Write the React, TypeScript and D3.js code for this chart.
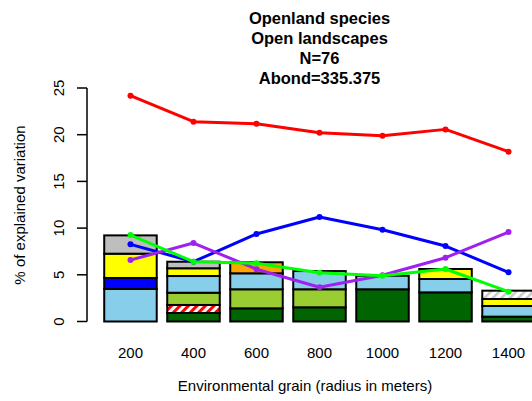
import React from "react";
import * as d3 from "d3";

const grains = ["200", "400", "600", "800", "1000", "1200", "1400"];

// stacked components (bottom to top), segment heights in % explained variation
const stackKeys = ["darkgreen", "redHatch", "yellowgreen", "skyblue", "blue", "yellow", "orange", "gray", "grayHatch"];
const darkgreenVals = [0, 0.91, 1.41, 1.52, 3.45, 3.12, 0.52];
const redHatchVals = [0, 0.86, 0, 0, 0, 0, 0];
const yellowgreenVals = [0, 1.31, 2.04, 1.93, 0, 0, 0];
const skyblueVals = [3.48, 1.79, 1.71, 1.95, 1.45, 1.43, 1.14];
const blueVals = [1.18, 0, 0, 0, 0, 0, 0];
const yellowVals = [2.6, 0.83, 0, 0, 0, 1.07, 0.75];
const orangeVals = [0, 0, 1.18, 0, 0, 0, 0];
const grayVals = [1.96, 0.7, 0, 0, 0, 0, 0];
const grayHatchVals = [0, 0, 0, 0, 0, 0, 0.89];

// line series
const redLine = [24.18, 21.39, 21.18, 20.21, 19.89, 20.57, 18.18];
const blueLine = [8.26, 6.4, 9.37, 11.19, 9.83, 8.08, 5.27];
const purpleLine = [6.58, 8.4, 5.6, 3.66, 4.95, 6.83, 9.58];
const greenLine = [9.26, 6.4, 6.23, 5.23, 4.9, 5.62, 3.19];

const yTicks = [0, 5, 10, 15, 20, 25];
const titleLines = ["Openland species", "Open landscapes", "N=76", "Abond=335.375"];

const fills: Record<string, string> = {
  darkgreen: "#006400",
  redHatch: "url(#hatchRed)",
  yellowgreen: "#9ACD32",
  skyblue: "#87CEEB",
  blue: "#0000FF",
  yellow: "#FFFF00",
  orange: "#FFA500",
  gray: "#BEBEBE",
  grayHatch: "url(#hatchGray)",
};

const valuesByKey: Record<string, number[]> = {
  darkgreen: darkgreenVals,
  redHatch: redHatchVals,
  yellowgreen: yellowgreenVals,
  skyblue: skyblueVals,
  blue: blueVals,
  yellow: yellowVals,
  orange: orangeVals,
  gray: grayVals,
  grayHatch: grayHatchVals,
};

export default function App() {
  const W = 532;
  const H = 401;
  const x = d3.scaleLinear().domain([-0.128, 8.728]).range([87, 552]);
  const y = d3.scaleLinear().domain([0, 25]).range([321.5, 88]);

  const table = grains.map((g, i) => {
    const row: Record<string, number | string> = { grain: g };
    stackKeys.forEach((k) => (row[k] = valuesByKey[k][i]));
    return row;
  });
  const stacked = d3.stack<any>().keys(stackKeys)(table as any);

  const barLeft = (i: number) => 0.2 + i * 1.2;
  const center = (i: number) => x(barLeft(i) + 0.5);

  const lineGen = d3
    .line<number>()
    .x((_, i) => center(i))
    .y((v) => y(v));

  const lines = [
    { data: redLine, color: "#FF0000" },
    { data: blueLine, color: "#0000FF" },
    { data: purpleLine, color: "#A020F0" },
    { data: greenLine, color: "#00FF00" },
  ];

  const font = "'Liberation Sans', Arial, sans-serif";

  return (
    <svg
      width={W}
      height={H}
      style={{ position: "absolute", left: 0, top: 0, background: "#fff" }}
      fontFamily={font}
    >
      <defs>
        <pattern id="hatchRed" patternUnits="userSpaceOnUse" width="6" height="6" patternTransform="rotate(45)">
          <rect width="6" height="6" fill="#fff" />
          <rect width="3" height="6" fill="#FF0000" />
        </pattern>
        <pattern id="hatchGray" patternUnits="userSpaceOnUse" width="6" height="6" patternTransform="rotate(45)">
          <rect width="6" height="6" fill="#fff" />
          <rect width="2.5" height="6" fill="#C8C8C8" />
        </pattern>
      </defs>

      {/* title */}
      {titleLines.map((t, i) => (
        <text key={t} x={319.5} y={24 + i * 20} textAnchor="middle" fontWeight="bold" fontSize={16.5}>
          {t}
        </text>
      ))}

      {/* bars */}
      {stacked.map((layer) =>
        layer.map((seg, i) => {
          const h = seg[1] - seg[0];
          if (h <= 0) return null;
          return (
            <rect
              key={layer.key + i}
              x={x(barLeft(i))}
              width={x(barLeft(i) + 1) - x(barLeft(i))}
              y={y(seg[1])}
              height={y(seg[0]) - y(seg[1])}
              fill={fills[layer.key]}
              stroke="#000"
              strokeWidth={2}
            />
          );
        })
      )}

      {/* lines */}
      {lines.map((l, k) => (
        <g key={k}>
          <path d={lineGen(l.data) || ""} fill="none" stroke={l.color} strokeWidth={3} strokeLinejoin="round" />
          {l.data.map((v, i) => (
            <circle key={i} cx={center(i)} cy={y(v)} r={3} fill={l.color} />
          ))}
        </g>
      ))}

      {/* y axis */}
      <line x1={87} x2={87} y1={y(0)} y2={y(25)} stroke="#000" strokeWidth={1.5} />
      {yTicks.map((t) => (
        <g key={t}>
          <line x1={77} x2={87} y1={y(t)} y2={y(t)} stroke="#000" strokeWidth={1.5} />
          <text
            x={64}
            y={y(t)}
            transform={`rotate(-90, 64, ${y(t)})`}
            textAnchor="middle"
            fontSize={15}
          >
            {t}
          </text>
        </g>
      ))}
      <text
        x={25}
        y={205}
        transform="rotate(-90, 25, 205)"
        textAnchor="middle"
        fontSize={15}
      >
        % of explained variation
      </text>

      {/* x tick labels */}
      {grains.map((g, i) => (
        <text key={g} x={center(i)} y={358} textAnchor="middle" fontSize={15}>
          {g}
        </text>
      ))}
      <text x={305} y={391} textAnchor="middle" fontSize={15}>
        Environmental grain (radius in meters)
      </text>
    </svg>
  );
}
